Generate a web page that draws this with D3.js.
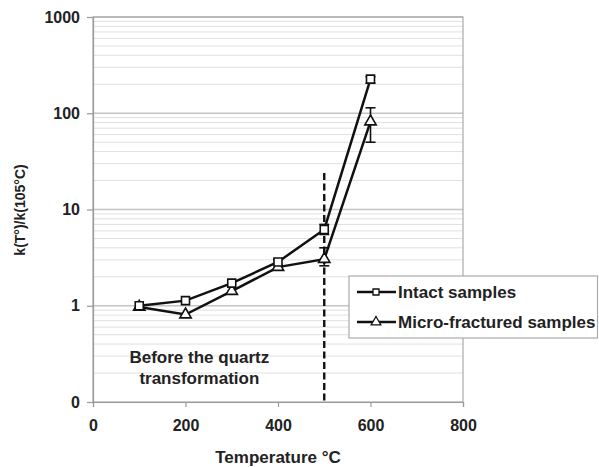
<!DOCTYPE html>
<html>
<head>
<meta charset="utf-8">
<script src="https://cdn.jsdelivr.net/npm/d3@7"></script>
<style>
  body { margin: 0; background: #fff; }
  svg text { font-family: Arial, "Liberation Sans", sans-serif; font-weight: bold; fill: #222; }
</style>
</head>
<body>
<svg id="chart" width="599" height="467"></svg>
<script>
// ── DATA ──────────────────────────────────────────────────────────────────────
const temps       = [100, 200, 300, 400, 500, 600];
const intact      = [1.0, 1.13, 1.72, 2.85, 6.2, 226];
const intactLo    = [1.0, 1.13, 1.72, 2.65, 5.5, 205];
const intactHi    = [1.0, 1.13, 1.72, 3.05, 7.0, 240];
const fractured   = [0.97, 0.81, 1.42, 2.52, 3.05, 82];
const fracturedLo = [0.97, 0.81, 1.42, 2.52, 2.6, 50];
const fracturedHi = [0.97, 0.81, 1.42, 2.52, 4.0, 114];
const xTicks      = [0, 200, 400, 600, 800];
const yTicks      = [0.1, 1, 10, 100, 1000];
const yTickLabels = ['0', '1', '10', '100', '1000'];
const seriesNames = ['Intact samples', 'Micro-fractured samples'];

// ── LAYOUT ────────────────────────────────────────────────────────────────────
const svg = d3.select('#chart');
const m = { left: 93, top: 17, right: 463, bottom: 402 };

const x = d3.scaleLinear().domain([0, 800]).range([m.left, m.right]);
const y = d3.scaleLog().domain([0.1, 1000]).range([m.bottom, m.top]);

// minor grid
const minors = [];
for (let d = 0.1; d < 1000; d *= 10) {
  for (let k = 2; k <= 9; k++) minors.push(d * k);
}
svg.append('g').selectAll('line').data(minors).join('line')
  .attr('x1', m.left).attr('x2', m.right)
  .attr('y1', d => y(d)).attr('y2', d => y(d))
  .attr('stroke', '#e0e0e0').attr('stroke-width', 1);

// major grid
svg.append('g').selectAll('line').data(yTicks.slice(1)).join('line')
  .attr('x1', m.left).attr('x2', m.right)
  .attr('y1', d => y(d)).attr('y2', d => y(d))
  .attr('stroke', '#c4c4c4').attr('stroke-width', 1.3);

// frame
svg.append('rect')
  .attr('x', m.left).attr('y', m.top)
  .attr('width', m.right - m.left).attr('height', m.bottom - m.top)
  .attr('fill', 'none').attr('stroke', '#aaa').attr('stroke-width', 1.2);

// axes
const yAxis = svg.append('g')
  .attr('transform', `translate(${m.left},0)`)
  .call(d3.axisLeft(y).tickValues(yTicks).tickFormat((d, i) => yTickLabels[i]).tickSize(6).tickPadding(7));
const xAxis = svg.append('g')
  .attr('transform', `translate(0,${m.bottom})`)
  .call(d3.axisBottom(x).tickValues(xTicks).tickSize(5).tickPadding(13));
[xAxis, yAxis].forEach(a => {
  a.select('.domain').attr('stroke', '#999').attr('stroke-width', 1.2);
  a.selectAll('.tick line').attr('stroke', '#999').attr('stroke-width', 1.2);
  a.selectAll('.tick text').attr('font-size', 16).attr('fill', '#222')
    .attr('font-family', 'Arial, "Liberation Sans", sans-serif').attr('font-weight', 'bold');
});

// axis titles
svg.append('text')
  .attr('x', x(400)).attr('y', 463)
  .attr('text-anchor', 'middle').attr('font-size', 17)
  .text('Temperature °C');
svg.append('text')
  .attr('transform', 'translate(25,210) rotate(-90)')
  .attr('text-anchor', 'middle').attr('font-size', 14)
  .text('k(T°)/k(105°C)');

// annotation
svg.append('text')
  .attr('x', x(230)).attr('y', 363)
  .attr('text-anchor', 'middle').attr('font-size', 17)
  .text('Before the quartz');
svg.append('text')
  .attr('x', x(230)).attr('y', 384)
  .attr('text-anchor', 'middle').attr('font-size', 17)
  .text('transformation');

// dashed line at 500 °C
svg.append('line')
  .attr('x1', x(500)).attr('x2', x(500))
  .attr('y1', y(24)).attr('y2', m.bottom)
  .attr('stroke', '#111').attr('stroke-width', 2.4)
  .attr('stroke-dasharray', '7,3.5');

// ── SERIES ────────────────────────────────────────────────────────────────────
const line = d3.line().x(d => x(d[0])).y(d => y(d[1]));
const sqSym  = d3.symbol().type(d3.symbolSquare).size(64);
const triSym = d3.symbol().type(d3.symbolTriangle).size(56);

function drawSeries(vals, lo, hi, sym) {
  const pts = temps.map((t, i) => [t, vals[i], lo[i], hi[i]]);
  svg.append('path').datum(pts)
    .attr('d', line).attr('fill', 'none')
    .attr('stroke', '#111').attr('stroke-width', 2.5);

  const eb = svg.append('g').selectAll('g')
    .data(pts.filter(p => p[3] / p[2] > 1.05)).join('g')
    .attr('stroke', '#111').attr('stroke-width', 1.6);
  eb.append('line')
    .attr('x1', d => x(d[0])).attr('x2', d => x(d[0]))
    .attr('y1', d => y(d[2])).attr('y2', d => y(d[3]));
  eb.append('line')
    .attr('x1', d => x(d[0]) - 5).attr('x2', d => x(d[0]) + 5)
    .attr('y1', d => y(d[2])).attr('y2', d => y(d[2]));
  eb.append('line')
    .attr('x1', d => x(d[0]) - 5).attr('x2', d => x(d[0]) + 5)
    .attr('y1', d => y(d[3])).attr('y2', d => y(d[3]));

  svg.append('g').selectAll('path').data(pts).join('path')
    .attr('transform', d => `translate(${x(d[0])},${y(d[1])})`)
    .attr('d', sym).attr('fill', '#fff')
    .attr('stroke', '#111').attr('stroke-width', 1.6);
}
drawSeries(fractured, fracturedLo, fracturedHi, triSym);
drawSeries(intact, intactLo, intactHi, sqSym);

// ── LEGEND ────────────────────────────────────────────────────────────────────
const lg = svg.append('g');
lg.append('rect')
  .attr('x', 349).attr('y', 276).attr('width', 248.5).attr('height', 62)
  .attr('fill', '#fff').attr('stroke', '#aaa').attr('stroke-width', 1.2);
[sqSym, triSym].forEach((sym, i) => {
  const ly = 292 + i * 30;
  lg.append('line').attr('x1', 357).attr('x2', 396).attr('y1', ly).attr('y2', ly)
    .attr('stroke', '#111').attr('stroke-width', 2.4);
  lg.append('path').attr('transform', `translate(376,${ly})`)
    .attr('d', d3.symbol().type(i ? d3.symbolTriangle : d3.symbolSquare).size(i ? 40 : 36))
    .attr('fill', '#fff').attr('stroke', '#111').attr('stroke-width', 1.3);
  lg.append('text').attr('x', 398).attr('y', ly + 6)
    .attr('font-size', 17).text(seriesNames[i]);
});
</script>
</body>
</html>
